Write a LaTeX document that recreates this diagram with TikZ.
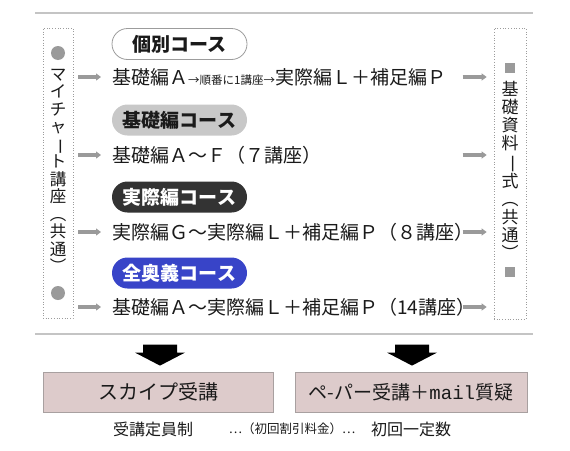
\documentclass[tikz,border=0pt]{standalone}
\usepackage{fontspec}
\setmainfont{Noto Sans CJK JP}
\newfontfamily\monofont{Liberation Mono}
\usetikzlibrary{arrows.meta}
\definecolor{linegray}{HTML}{C4C4C4}
\definecolor{arrowgray}{HTML}{9A9A9A}
\definecolor{dotgray}{HTML}{9C9C9C}
\definecolor{pillgray}{HTML}{C8C8C8}
\definecolor{pilldark}{HTML}{333333}
\definecolor{pillblue}{HTML}{3844C8}
\definecolor{boxpink}{HTML}{DDCBCB}
\definecolor{boxedge}{HTML}{A8A0A0}
\definecolor{txt}{HTML}{1A1A1A}
\newcommand\fsz[1]{\fontsize{#1}{#1}\selectfont}
\newcommand\vrot[1]{\rotatebox[origin=c]{-90}{#1}}
\tikzset{
  hline/.style={draw=linegray, line width=1.2pt},
  dotbox/.style={draw=dotgray, dotted, line width=0.7pt, inner sep=0pt},
  vtext/.style={align=center, inner sep=0pt, text=txt},
  dotmark/.style={circle, fill=arrowgray, minimum size=14pt, inner sep=0pt},
  sqmark/.style={rectangle, fill=arrowgray, minimum size=10pt, inner sep=0pt},
  pill/.style={rounded corners=15.5pt, minimum width=135pt, minimum height=31pt, inner sep=0pt, font=\bfseries\fsz{19}},
  rowtext/.style={anchor=west, inner sep=0pt, text=txt, font=\fsz{19}},
  garrow/.style={draw=arrowgray, line width=3.2pt, -{Triangle[length=5pt,width=7pt]}},
  bottombox/.style={fill=boxpink, draw=boxedge, line width=0.8pt, inner sep=0pt, text=txt},
  note/.style={inner sep=0pt, text=txt},
}
\begin{document}
\begin{tikzpicture}[x=1pt,y=-1pt]
\useasboundingbox (0,0) rectangle (570,450);
\fill[white] (0,0) rectangle (570,450);

% separator lines
\coordinate (tl) at (35,13);
\coordinate (tr) at (533,13);
\coordinate (bl) at (35,334);
\coordinate (br) at (533,334);
\draw[hline] (tl) -- (tr);
\draw[hline] (bl) -- (br);

% left dotted box
\node[dotbox, minimum width=30pt, minimum height=290pt] (leftbox) at (58,173) {};
\node[dotmark] (lc1) at (58,53) {};
\node[dotmark] (lc2) at (58,293) {};
\node[vtext, font=\fontsize{16.5}{17.5}\selectfont] (lefttext) at (58,171)
  {マ\\イ\\チ\\ャ\\\vrot{ー}\\ト\\講\\座\\︵\\共\\通\\︶};

% right dotted box
\node[dotbox, minimum width=32pt, minimum height=291pt] (rightbox) at (510,173.5) {};
\node[sqmark] (rs1) at (510,68) {};
\node[sqmark] (rs2) at (510,272) {};
\node[vtext, font=\fontsize{17}{18}\selectfont] (righttext) at (510,170.5)
  {基\\礎\\資\\料\\\vrot{一}\\式\\︵\\共\\通\\︶};

% course pills
\node[pill, draw=dotgray, line width=0.8pt, fill=white, text=txt] (p1) at (179.5,44) {個別コース};
\node[pill, fill=pillgray, text=txt] (p2) at (179.5,120) {基礎編コース};
\node[pill, fill=pilldark, text=white] (p3) at (179.5,197) {実際編コース};
\node[pill, fill=pillblue, text=white] (p4) at (179.5,273) {全奥義コース};

% row texts
\node[rowtext] (r1) at (112,77) {基礎編Ａ{\fsz{11.5}→順番に1講座→}実際編Ｌ＋補足編Ｐ};
\node[rowtext] (r2) at (112,155) {基礎編Ａ～Ｆ（７講座）};
\node[rowtext] (r3) at (112,232) {実際編Ｇ～実際編Ｌ＋補足編Ｐ（８講座）};
\node[rowtext] (r4) at (112,307) {基礎編Ａ～実際編Ｌ＋補足編Ｐ（14講座）};

% gray arrows
\foreach \r in {r1,r2,r3,r4}{
  \draw[garrow] ([xshift=5pt]leftbox.east |- \r.west) -- ([xshift=-11pt]\r.west);
  \draw[garrow] ([xshift=-31pt]rightbox.west |- \r.west) -- ([xshift=-7pt]rightbox.west |- \r.west);
}

% bottom boxes
\node[bottombox, minimum width=230pt, minimum height=40pt, font=\fsz{20}] (b1) at (158,392) {スカイプ受講};
\node[bottombox, minimum width=232pt, minimum height=40pt, font=\fsz{19}] (b2) at (411,392) {ペ-パー受講＋{\monofont mail}質疑};

% black block arrows
\coordinate (t1) at ([xshift=2pt,yshift=6pt]b1.north);
\coordinate (t2) at ([xshift=1pt,yshift=6pt]b2.north);
\foreach \t in {t1,t2}{
  \fill[black] (\t) -- ++(-25,-13) -- ++(8,0) -- ++(0,-8) -- ++(34,0) -- ++(0,8) -- ++(8,0) -- cycle;
}

% notes
\node[note, font=\fsz{16}] (n1) at (153,429) {受講定員制};
\node[note, font=\fsz{12.5}] (n2) at (292,429) {…（初回割引料金）…};
\node[note, font=\fsz{16}] (n3) at (411,429) {初回一定数};
\end{tikzpicture}
\end{document}
